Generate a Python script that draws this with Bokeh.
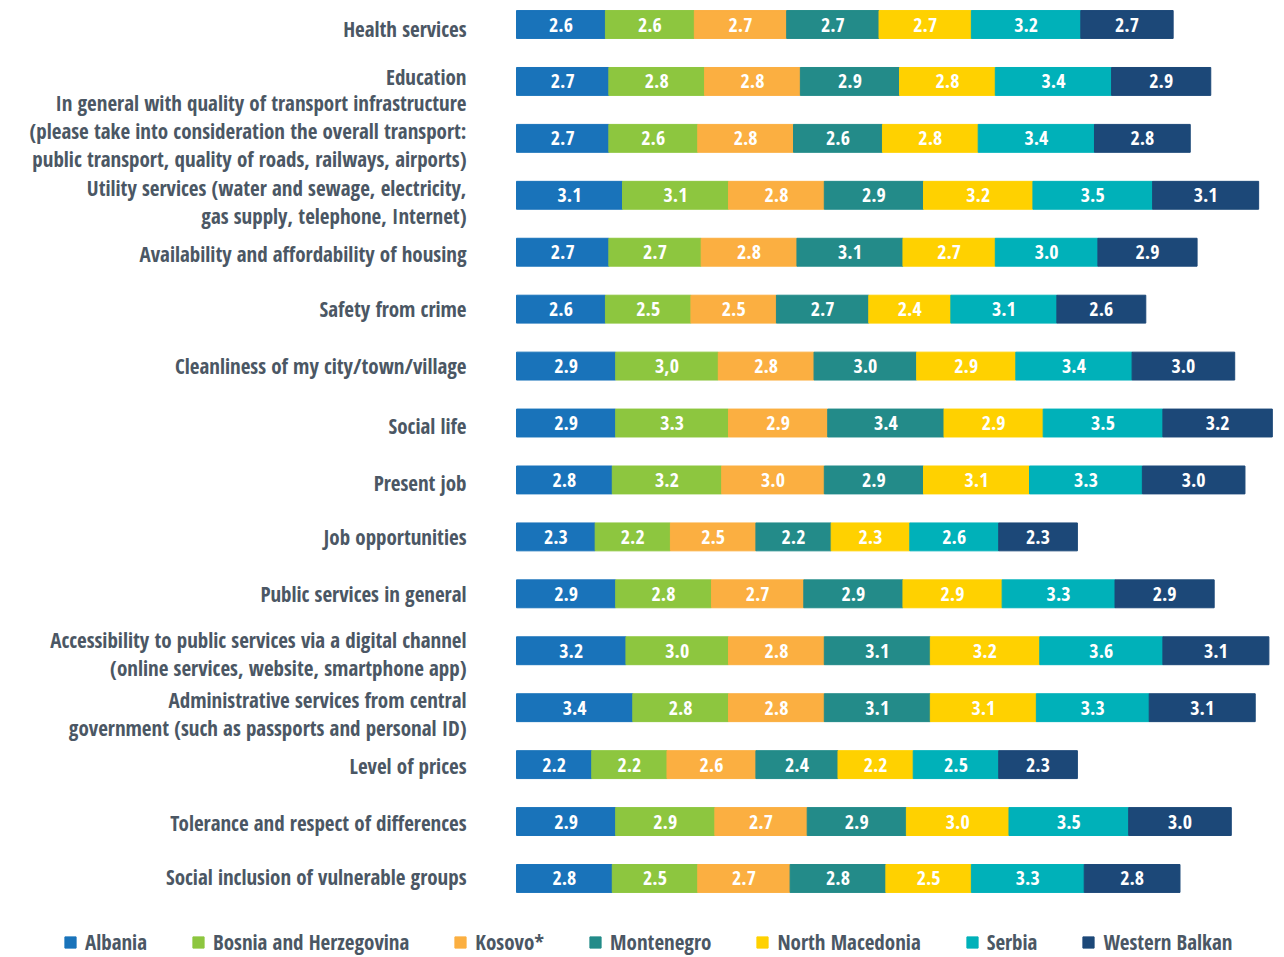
from bokeh.plotting import figure
from bokeh.models import ColumnDataSource, Range1d, Legend, LegendItem
from bokeh.core.properties import value
from bokeh.embed import file_html
from bokeh.resources import INLINE
import numpy as np

categories = [
    "Health services",
    "Education",
    "In general with quality of transport infrastructure\n(please take into consideration the overall transport:\npublic transport, quality of roads, railways, airports)",
    "Utility services (water and sewage, electricity,\ngas supply, telephone, Internet)",
    "Availability and affordability of housing",
    "Safety from crime",
    "Cleanliness of my city/town/village",
    "Social life",
    "Present job",
    "Job opportunities",
    "Public services in general",
    "Accessibility to public services via a digital channel\n(online services, website, smartphone app)",
    "Administrative services from central\ngovernment (such as passports and personal ID)",
    "Level of prices",
    "Tolerance and respect of differences",
    "Social inclusion of vulnerable groups",
]

series_names = ["Albania", "Bosnia and Herzegovina", "Kosovo*", "Montenegro",
                "North Macedonia", "Serbia", "Western Balkan"]

albania = [2.6, 2.7, 2.7, 3.1, 2.7, 2.6, 2.9, 2.9, 2.8, 2.3, 2.9, 3.2, 3.4, 2.2, 2.9, 2.8]
bosnia = [2.6, 2.8, 2.6, 3.1, 2.7, 2.5, 3.0, 3.3, 3.2, 2.2, 2.8, 3.0, 2.8, 2.2, 2.9, 2.5]
kosovo = [2.7, 2.8, 2.8, 2.8, 2.8, 2.5, 2.8, 2.9, 3.0, 2.5, 2.7, 2.8, 2.8, 2.6, 2.7, 2.7]
montenegro = [2.7, 2.9, 2.6, 2.9, 3.1, 2.7, 3.0, 3.4, 2.9, 2.2, 2.9, 3.1, 3.1, 2.4, 2.9, 2.8]
north_macedonia = [2.7, 2.8, 2.8, 3.2, 2.7, 2.4, 2.9, 2.9, 3.1, 2.3, 2.9, 3.2, 3.1, 2.2, 3.0, 2.5]
serbia = [3.2, 3.4, 3.4, 3.5, 3.0, 3.1, 3.4, 3.5, 3.3, 2.6, 3.3, 3.6, 3.3, 2.5, 3.5, 3.3]
western_balkan = [2.7, 2.9, 2.8, 3.1, 2.9, 2.6, 3.0, 3.2, 3.0, 2.3, 2.9, 3.1, 3.1, 2.3, 3.0, 2.8]

# the source prints one value with a decimal comma
label_overrides = {("Bosnia and Herzegovina", 6): "3,0"}

colors = ["#1973ba", "#8dc63f", "#fbaf41", "#238b89", "#ffd100", "#00b1b9", "#1c4878"]

FONT = "Open Sans Condensed"
LABEL_COLOR = "#4b5764"
# small vertical nudges (px) of the category labels, as in the source layout
label_nudge_px = [4, -4, -7, 7, 2, 0, 0, 3, 3, 0, 0, 3, 6, 1, 1, -1]

all_series = [albania, bosnia, kosovo, montenegro, north_macedonia, serbia, western_balkan]
keys = ["s%d" % i for i in range(len(series_names))]
n = len(categories)
data = {"y": list(range(n)), "cat": categories, "nudge": label_nudge_px}
for k, s in zip(keys, all_series):
    data[k] = s
source = ColumnDataSource(data)

p = figure(width=1284, height=957, output_backend="svg", toolbar_location=None,
           x_range=Range1d(-15.088, 22.456), y_range=Range1d(16.388, -0.4216),
           min_border_left=0, min_border_right=0, min_border_top=0, min_border_bottom=0)
p.outline_line_color = None
p.xaxis.visible = False
p.yaxis.visible = False
p.xgrid.visible = False
p.ygrid.visible = False
p.background_fill_color = "white"

renderers = p.hbar_stack(keys, y="y", height=0.49, color=colors, source=source)

# value labels at segment centres
arr = np.array(all_series)
cum = np.cumsum(arr, axis=0)
lx, ly, lt = [], [], []
for si, name in enumerate(series_names):
    for ci in range(n):
        v = arr[si, ci]
        lx.append(cum[si, ci] - v / 2.0)
        ly.append(ci)
        lt.append(label_overrides.get((name, ci), "%.1f" % v))
p.text(x=lx, y=ly, text=lt, text_align="center", text_baseline="middle",
       text_color="white", text_font=value(FONT), text_font_style="bold",
       text_font_size="20px")

# category labels
p.text(x=0, y="y", text="cat", source=source, x_offset=-50, y_offset="nudge",
       text_align="right", text_baseline="middle", text_color=LABEL_COLOR,
       text_font=value(FONT), text_font_style="bold", text_font_size="21px",
       text_line_height=1.0)

legend = Legend(items=[LegendItem(label=nm, renderers=[r]) for nm, r in zip(series_names, renderers)],
                orientation="horizontal", location=(63, 1), spacing=44,
                glyph_width=14, glyph_height=14, label_standoff=8, padding=0, margin=0,
                border_line_color=None, background_fill_alpha=0,
                label_text_font=FONT, label_text_font_style="bold",
                label_text_font_size="21px", label_text_color=LABEL_COLOR)
p.add_layout(legend)

open("out.html", "w").write(file_html(p, INLINE))
